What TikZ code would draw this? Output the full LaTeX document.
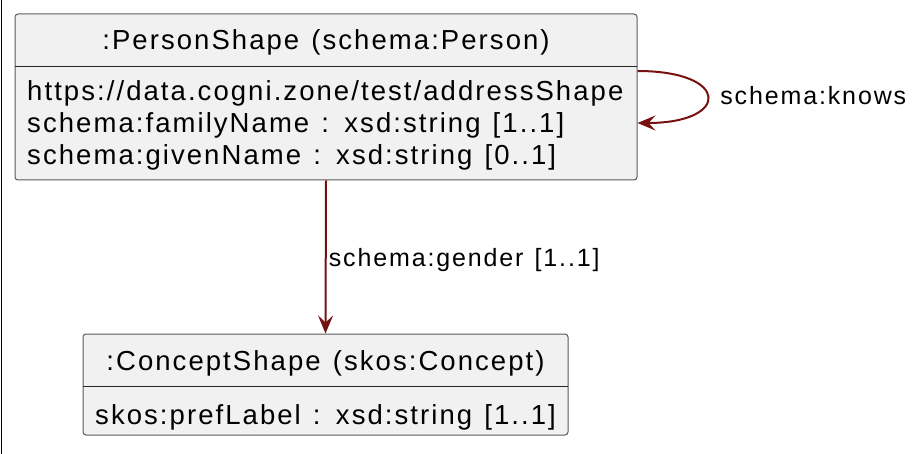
\documentclass[tikz,border=0pt]{standalone}
\usepackage{fontspec}
\usetikzlibrary{calc}
\usetikzlibrary{positioning}
\usetikzlibrary{arrows.meta}
\setmainfont[LetterSpace=7.5, WordSpace=1.25]{Liberation Sans}
\definecolor{box-fill}{RGB}{241, 241, 241}
\definecolor{box-line}{RGB}{90, 90, 90}
\definecolor{rel-red}{RGB}{120, 16, 16}

\tikzset{
    classbox/.style={draw=box-line, fill=box-fill, line width=1pt, rounded corners=3pt, inner sep=0pt},
    txt/.style={inner sep=0pt, anchor=base west, font=\fontsize{27.5}{32}\selectfont},
    reltxt/.style={inner sep=0pt, anchor=base west, font=\fontsize{25}{30}\selectfont},
    rel/.style={draw=rel-red, line width=2pt, -{Stealth[length=18pt, width=15pt, inset=7pt]}}
}

\begin{document}
\begin{tikzpicture}[x=1pt, y=-1pt]
                \useasboundingbox (0, 0) rectangle (915, 454);
                \draw[black, line width=1pt] (1, 0) -- (1, 454);
                % person shape
                \node[classbox, minimum width=622pt, minimum height=166pt] (person) at (326, 97) {};
                \draw[black!85] (15, 66) -- (637, 66);
                \node[txt, anchor=base] (persontitle) at (326, 50) {:PersonShape (schema:Person)};
                \node[txt] (addr) at (27, 101) {https://data.cogni.zone/test/addressShape};
                \node[txt] (family) at (27, 133) {schema:familyName : xsd:string [1..1]};
                \node[txt] (given) at (27, 165) {schema:givenName : xsd:string [0..1]};
                % concept shape
                \node[classbox, minimum width=485pt, minimum height=101pt] (concept) at (325.5, 384.5) {};
                \draw[black!85] (83, 386) -- (568, 386);
                \node[txt, anchor=base] (concepttitle) at (325.5, 370) {:ConceptShape (skos:Concept)};
                \node[txt] (preflabel) at (95, 424) {skos:prefLabel : xsd:string [1..1]};
                % relations
                \draw[rel] (person.south) -- node[reltxt, xshift=2pt, yshift=-9pt] {schema:gender [1..1]} (concept.north);
                \draw[rel] ($(person.east)+(0, -26)$) .. controls +(93, 0) and +(93, 0) .. node[reltxt, xshift=12pt, yshift=-8pt] {schema:knows} ($(person.east)+(0, 26)$);
            \end{tikzpicture}
\end{document}
